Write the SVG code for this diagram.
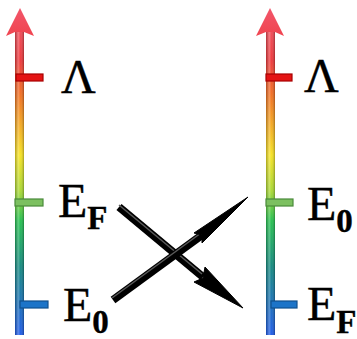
<svg xmlns="http://www.w3.org/2000/svg" width="357" height="339" viewBox="0 0 357 339">
<defs>
<linearGradient id="rb" gradientUnits="userSpaceOnUse" x1="0" y1="8" x2="0" y2="335">
<stop offset="0" stop-color="#f2566a"/>
<stop offset="0.16" stop-color="#ee3438"/>
<stop offset="0.27" stop-color="#f2701c"/>
<stop offset="0.45" stop-color="#f6e21e"/>
<stop offset="0.56" stop-color="#a8d830"/>
<stop offset="0.65" stop-color="#22c04c"/>
<stop offset="0.79" stop-color="#10887e"/>
<stop offset="1" stop-color="#1a58e8"/>
</linearGradient>
<linearGradient id="shine" x1="0" y1="0" x2="1" y2="0">
<stop offset="0" stop-color="#000" stop-opacity="0.25"/>
<stop offset="0.35" stop-color="#fff" stop-opacity="0.3"/>
<stop offset="0.6" stop-color="#fff" stop-opacity="0.05"/>
<stop offset="1" stop-color="#000" stop-opacity="0.3"/>
</linearGradient>
<style>
.lbl{font-family:"Liberation Serif","Times New Roman",serif;font-size:48px;fill:#000;stroke:#000;stroke-width:0.4}
.sub{font-size:33px;font-weight:bold}
.tr{fill:#e41414;stroke:#a80000;stroke-width:1.2}
.tg{fill:#7cc060;stroke:#4a8a3a;stroke-width:1.2}
.tb{fill:#1c74c8;stroke:#10508e;stroke-width:1.2}
.arr{fill:#000;stroke:#000;stroke-width:1;stroke-linejoin:round}
.shaft{stroke:#000;stroke-width:8}
.hl{stroke:#5a5a5a;stroke-width:1.5}
</style>
</defs>

<g id="left-axis">
<path d="M20,8 L34,36 L24,32 L24,335 L15,335 L15,32 L6,36 Z" fill="url(#rb)"/>
<rect x="15" y="32" width="9" height="303" fill="url(#shine)"/>
<rect class="tr" x="16" y="74" width="27" height="7"/>
<rect class="tg" x="15" y="199" width="28" height="7"/>
<rect class="tb" x="20" y="301" width="28" height="7"/>
</g>

<g id="right-axis">
<path d="M270,8 L284,36 L275,32 L275,335 L266,335 L266,32 L256,36 Z" fill="url(#rb)"/>
<rect x="266" y="32" width="9" height="303" fill="url(#shine)"/>
<rect class="tr" x="266" y="74" width="26" height="7"/>
<rect class="tg" x="266" y="199" width="27" height="7"/>
<rect class="tb" x="271" y="301" width="26" height="7"/>
</g>

<g id="label-left-lambda"><text class="lbl" x="61" y="93">Λ</text></g>
<g id="label-left-EF"><text class="lbl" x="58" y="217">E<tspan class="sub" dy="12">F</tspan></text></g>
<g id="label-left-E0"><text class="lbl" x="63" y="321">E<tspan class="sub" dy="12">0</tspan></text></g>
<g id="label-right-lambda"><text class="lbl" x="304" y="92">Λ</text></g>
<g id="label-right-E0"><text class="lbl" x="307" y="220">E<tspan class="sub" dy="12">0</tspan></text></g>
<g id="label-right-EF"><text class="lbl" x="307" y="320">E<tspan class="sub" dy="13">F</tspan></text></g>

<g id="connectors">
<g id="arrow-EF-down">
<line class="shaft" x1="119" y1="207" x2="203" y2="277"/>
<line class="hl" x1="119" y1="205" x2="202" y2="274"/>
<polygon class="arr" points="243,308 194,282 203,278 205,267"/>
</g>
<g id="arrow-E0-up">
<line class="shaft" x1="113" y1="300" x2="202" y2="235"/>
<line class="hl" x1="112" y1="298" x2="201" y2="233"/>
<polygon class="arr" points="248,197 202,243 202,235 194,233"/>
</g>
</g>
</svg>
